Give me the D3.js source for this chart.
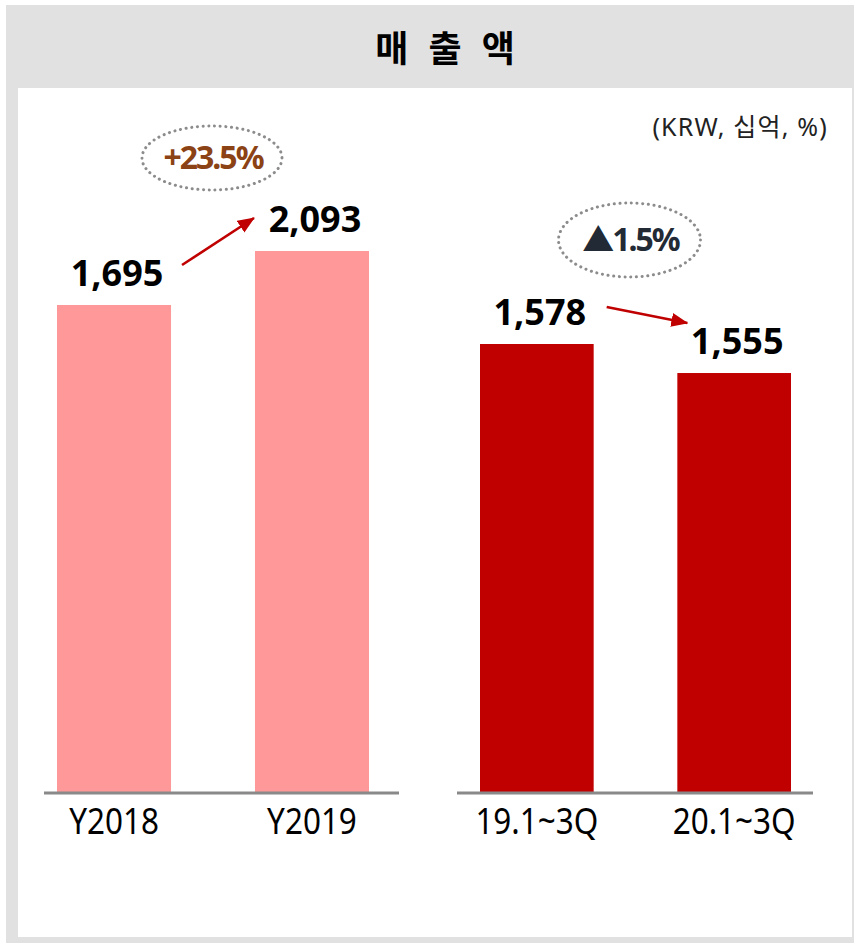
<!DOCTYPE html>
<html>
<head>
<meta charset="utf-8">
<script src="https://cdn.jsdelivr.net/npm/d3@7"></script>
<style>
  html, body { margin: 0; padding: 0; background: #fff; }
  svg { display: block; }
  text { font-family: "Noto Sans", "Noto Sans CJK KR", sans-serif; }
</style>
</head>
<body>
<div id="chart"></div>
<script>
// chart values
const annualCats = ["Y2018", "Y2019"];
const annualSales = [1695, 2093];
const quarterCats = ["19.1~3Q", "20.1~3Q"];
const quarterSales = [1578, 1555];
const changeLabels = ["+23.5%", "▲1.5%"];
const titleText = "매 출 액";
const unitText = "(KRW, 십억, %)";

const W = 854, H = 943;
const baseY = 792;

const svg = d3.select("#chart").append("svg")
  .attr("width", W).attr("height", H);

// arrow head
svg.append("defs").append("marker")
  .attr("id", "arrow")
  .attr("markerUnits", "userSpaceOnUse")
  .attr("markerWidth", 18).attr("markerHeight", 16)
  .attr("refX", 16).attr("refY", 7)
  .attr("orient", "auto")
  .append("path")
  .attr("d", "M0,0 L17,7 L0,14 Z")
  .attr("fill", "#c00000");

// frame: grey band with white panel
svg.append("rect").attr("x", 6).attr("y", 5).attr("width", W - 6).attr("height", H - 5)
  .attr("fill", "#e1e1e1");
svg.append("rect").attr("x", 18).attr("y", 88).attr("width", 834).attr("height", 849)
  .attr("fill", "#fff");

svg.append("text")
  .attr("x", 448).attr("y", 62)
  .attr("text-anchor", "middle")
  .attr("font-size", 36).attr("font-weight", 700)
  .attr("letter-spacing", 6)
  .style("font-family", "'Noto Sans CJK KR', sans-serif")
  .text(titleText);

svg.append("text")
  .attr("x", 828).attr("y", 136)
  .attr("text-anchor", "end")
  .attr("font-size", 25)
  .attr("letter-spacing", 1.2)
  .attr("fill", "#222")
  .text(unitText);

// two panels, each with its own scale (the original axes do not start at zero)
let panels = [
  {
    cats: annualCats, vals: annualSales, color: "#ff9999",
    xRange: [57, 369], axisExt: [44, 399],
    yDomain: [-1894, 2093], yTop: 251,
    change: changeLabels[0], changeColor: "#8b4215",
    ell: {dy: 93, rx: 70, ry: 32, dx: -1},
    arrow: {sx: 11, sy: -40, ex: -1, ey: -33}
  },
  {
    cats: quarterCats, vals: quarterSales, color: "#c00000",
    xRange: [480, 791], axisExt: [457, 813],
    yDomain: [1223, 1578], yTop: 344,
    change: changeLabels[1], changeColor: "#222a35",
    ell: {dy: 104, rx: 71, ry: 37, dx: -6},
    arrow: {sx: 13, sy: -37, ex: 10, ey: -50}
  }
];

panels.forEach((p) => {
  let x = d3.scaleBand().domain(p.cats).range(p.xRange).paddingInner(0.424).paddingOuter(0);
  let y = d3.scaleLinear().domain(p.yDomain).range([baseY, p.yTop]);
  let data = p.cats.map((c, i) => ({cat: c, val: p.vals[i]}));
  let g = svg.append("g");

  g.selectAll("rect.bar").data(data).enter()
    .append("rect").attr("class", "bar")
    .attr("x", (d) => x(d.cat))
    .attr("y", (d) => y(d.val))
    .attr("width", x.bandwidth())
    .attr("height", (d) => baseY - y(d.val))
    .attr("fill", p.color);

  g.append("line")
    .attr("x1", p.axisExt[0]).attr("x2", p.axisExt[1])
    .attr("y1", baseY + 1).attr("y2", baseY + 1)
    .attr("stroke", "#898989").attr("stroke-width", 3);

  // category labels (narrow face in the original, so squeeze a bit)
  g.selectAll("text.cat").data(data).enter()
    .append("text").attr("class", "cat")
    .attr("transform", (d) => `translate(${x(d.cat) + x.bandwidth() / 2},834) scale(0.85,1)`)
    .attr("text-anchor", "middle")
    .attr("font-size", 37)
    .attr("fill", "#000")
    .text((d) => d.cat);

  g.selectAll("text.val").data(data).enter()
    .append("text").attr("class", "val")
    .attr("x", (d) => x(d.cat) + x.bandwidth() / 2 + 3)
    .attr("y", (d) => y(d.val) - 19)
    .attr("text-anchor", "middle")
    .attr("font-size", 36).attr("font-weight", 700)
    .attr("fill", "#000")
    .text((d) => d3.format(",")(d.val));

  // change arrow between the two labels
  let a = p.arrow;
  g.append("line")
    .attr("x1", x(p.cats[0]) + x.bandwidth() + a.sx)
    .attr("y1", y(p.vals[0]) + a.sy)
    .attr("x2", x(p.cats[1]) + a.ex)
    .attr("y2", y(p.vals[1]) + a.ey)
    .attr("stroke", "#c00000").attr("stroke-width", 2.6)
    .attr("marker-end", "url(#arrow)");

  // dotted ellipse with growth rate
  let cx = (x(p.cats[0]) + x(p.cats[1]) + x.bandwidth()) / 2 + p.ell.dx;
  let cy = y(d3.max(p.vals)) - p.ell.dy;
  g.append("ellipse")
    .attr("cx", cx).attr("cy", cy)
    .attr("rx", p.ell.rx).attr("ry", p.ell.ry)
    .attr("fill", "none")
    .attr("stroke", "#8c8c8c").attr("stroke-width", 3)
    .attr("stroke-dasharray", "0.1 5.6").attr("stroke-linecap", "round");
  g.append("text")
    .attr("x", cx + 1).attr("y", cy + 11)
    .attr("text-anchor", "middle")
    .attr("font-size", 32).attr("font-weight", 700)
    .attr("letter-spacing", -2)
    .attr("fill", p.changeColor)
    .text(p.change);
});
</script>
</body>
</html>
